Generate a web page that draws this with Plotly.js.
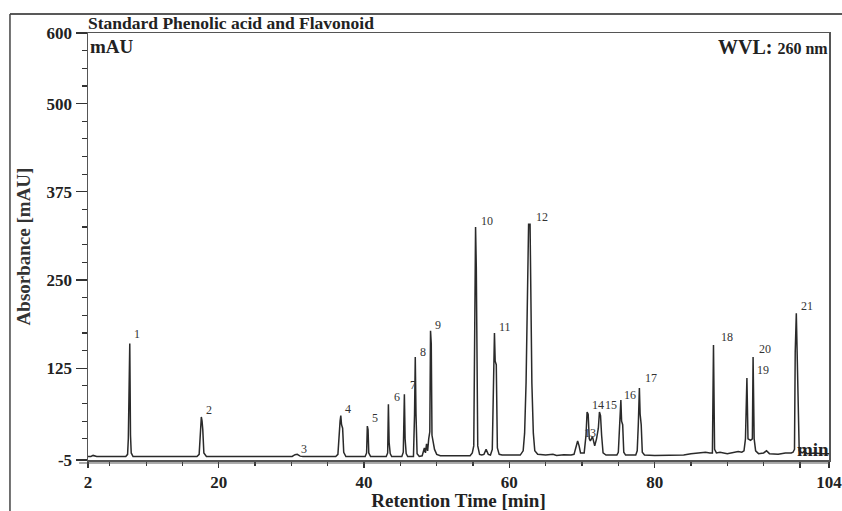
<!DOCTYPE html>
<html>
<head>
<meta charset="utf-8">
<script src="https://cdn.plot.ly/plotly-3.0.1.min.js"></script>
<style>html,body{margin:0;padding:0;background:#fff;}#chart{width:842px;height:511px;}</style>
</head>
<body>
<div id="chart"></div>
<script>
// Chromatogram trace (retention time in min, absorbance in mAU)
var retentionTime = [
  2.0, 2.4, 2.7, 3.2, 7.2, 7.45, 7.55, 7.65, 7.75, 7.85, 7.95, 8.2,
  17.0, 17.3, 17.45, 17.6, 17.7, 17.8, 17.95, 18.3,
  30.1, 30.5, 30.8, 31.2, 31.6,
  36.1, 36.4, 36.55, 36.7, 36.8, 36.9, 37.05, 37.2, 37.5,
  40.15, 40.35, 40.45, 40.55, 40.65, 40.9,
  43.05, 43.25, 43.35, 43.45, 43.6, 43.8,
  45.2, 45.4, 45.55, 45.65, 45.8, 46.0,
  46.8, 46.95, 47.05, 47.15, 47.3, 47.6,
  48.0, 48.3, 48.45, 48.6, 48.75, 48.9, 49.05, 49.15, 49.25, 49.35, 49.5, 49.7, 50.0, 50.5,
  54.6, 54.9, 55.1, 55.2, 55.35, 55.45, 55.55, 55.65, 55.9, 56.2,
  56.5, 56.8, 57.1,
  57.4, 57.65, 57.8, 57.95, 58.05, 58.2, 58.35, 58.6, 59.0,
  61.5, 61.9, 62.1, 62.3, 62.5, 62.65, 62.85, 62.95, 63.1, 63.3, 63.5, 63.9,
  65.0, 66.0, 66.5, 67.5, 68.5,
  68.9, 69.2, 69.4, 69.6, 69.8,
  70.3, 70.55, 70.7, 70.85, 71.0,
  71.15, 71.45, 71.75,
  72.0, 72.25, 72.4, 72.55, 72.7, 72.9, 73.3, 74.0,
  74.8, 75.0, 75.15, 75.35, 75.45, 75.6, 75.75, 76.0,
  77.4, 77.6, 77.75, 77.9, 78.0, 78.15, 78.3, 78.6,
  80.0, 82.0, 84.0, 85.0, 86.0, 87.0, 87.6,
  87.95, 88.1, 88.25, 88.5, 89.0, 90.0, 90.8, 91.5, 92.0,
  92.3, 92.5, 92.7, 92.85, 93.2, 93.45, 93.55, 93.7, 93.9, 94.3, 95.0, 95.4, 95.8, 97.0, 98.0, 98.8,
  99.05, 99.25, 99.35, 99.5, 99.6, 99.75, 99.9, 100.3, 100.6, 101.0, 102.0, 103.0, 104.0
];
var absorbance = [
  0, 0, 1.5, 0, 0, 3, 25, 140, 160, 30, 5, 0,
  0, 3, 38, 56, 50, 38, 5, 0,
  0, 2.5, 3, 0.5, 0,
  0, 3, 35, 50, 58, 45, 40, 6, 0,
  0, 5, 43, 38, 5, 0,
  0, 5, 74, 20, 4, 0,
  0, 6, 88, 25, 4, 0,
  0, 60, 141, 60, 4, 0,
  1, 12, 5, 18, 8, 25, 35, 178, 160, 30, 20, 10, 3, 1,
  1, 5, 15, 125, 325, 268, 125, 15, 3, 2,
  3, 10, 3,
  2, 10, 130, 175, 135, 130, 12, 3, 2,
  2, 8, 33, 104, 236, 329, 329, 236, 104, 33, 8, 3,
  2, 3, 1.5, 2.5, 2,
  3, 15, 22, 15, 5,
  5, 30, 63, 60, 25,
  22, 28, 15,
  25, 40, 63, 58, 30, 5, 2, 2,
  2, 6, 45, 80, 50, 45, 6, 2,
  2, 8, 45, 97, 60, 45, 6, 2,
  1.5, 1.5, 2, 4, 5, 6, 5,
  5, 158, 10, 5, 6, 4, 5.5, 7, 6,
  8, 25, 111, 25, 23, 25, 141, 25, 8, 4, 5, 8, 4, 3, 5, 5,
  6, 10, 148, 203, 148, 101, 8, 5, 7, 4, 5, 4, 4
];

// Peak numbers and where their labels sit
var peakNumbers = ['1','2','3','4','5','6','7','8','9','10','11','12','13','14','15','16','17','18','19','20','21'];
var labelTime   = [8.74, 18.65, 31.73, 37.79, 41.5, 44.53, 46.73, 48.11, 50.18, 56.92, 59.4, 64.49, 71.1, 72.2, 73.99, 76.6, 79.49, 89.96, 94.91, 95.19, 100.97];
var labelAbs    = [173.5, 65.8, 10.6, 67.3, 54.5, 84.3, 101.3, 148.0, 186.3, 333.6, 183.4, 339.3, 33.3, 72.9, 72.9, 87.1, 111.2, 169.3, 122.5, 152.3, 213.2];

// Axis ticks
var xTickVals = [2, 20, 40, 60, 80, 100, 104];
var xTickText = ['2', '20', '40', '60', '80', '', '104'];
var xMinorVals = [5, 10, 15, 25, 30, 35, 45, 50, 55, 65, 70, 75, 85, 90, 95];
var yTickVals = [-5, 125, 250, 375, 500, 600];
var yTickText = ['-5', '125', '250', '375', '500', '600'];
var yMinorVals = [25, 50, 75, 100, 150, 175, 200, 225, 275, 300, 325, 350, 400, 425, 450, 475, 525, 550, 575];

var serif = 'Liberation Serif, Times New Roman, serif';

var trace = {
  x: retentionTime,
  y: absorbance,
  type: 'scatter',
  mode: 'lines',
  line: {color: '#2a2a2a', width: 1.5},
  hoverinfo: 'x+y',
  showlegend: false
};

var annotations = peakNumbers.map(function (t, i) {
  return {
    x: labelTime[i], y: labelAbs[i], xref: 'x', yref: 'y',
    text: t, showarrow: false, xanchor: 'center', yanchor: 'middle',
    font: {family: serif, size: 12, color: '#333'}
  };
});
annotations.push({
  x: 0, y: 0.997, xref: 'paper', yref: 'paper', xanchor: 'left', yanchor: 'top',
  text: 'mAU', showarrow: false, font: {family: serif, size: 19, color: '#222', weight: 'bold'}
});
annotations.push({
  x: 1.002, y: 0.997, xref: 'paper', yref: 'paper', xanchor: 'right', yanchor: 'top',
  text: 'WVL: <span style="font-size:16px">260 nm</span>', showarrow: false,
  font: {family: serif, size: 20, color: '#222', weight: 'bold'}
});
annotations.push({
  x: 1.003, y: 0.025, xref: 'paper', yref: 'paper', xanchor: 'right', yanchor: 'middle',
  text: 'min', showarrow: false, font: {family: serif, size: 19, color: '#222', weight: 'bold'}
});

var layout = {
  width: 842, height: 511,
  margin: {l: 88, r: 13, t: 33, b: 51},
  paper_bgcolor: '#ffffff',
  plot_bgcolor: '#ffffff',
  title: {
    text: 'Standard Phenolic acid and Flavonoid',
    x: 88 / 842, xanchor: 'left', xref: 'container',
    y: 1 - 23 / 511, yanchor: 'middle', yref: 'container',
    font: {family: serif, size: 17.5, color: '#222', weight: 'bold'}
  },
  xaxis: {
    range: [2, 104], showgrid: false, zeroline: false,
    showline: true, linecolor: '#555', linewidth: 1.5, mirror: true,
    ticks: 'outside', ticklen: 6, tickwidth: 1.3, tickcolor: '#333',
    tickmode: 'array', tickvals: xTickVals, ticktext: xTickText,
    ticklabeloverflow: 'allow',
    tickfont: {family: serif, size: 17, color: '#222', weight: 'bold'},
    minor: {tickmode: 'array', tickvals: xMinorVals, ticks: 'outside', ticklen: 4, tickcolor: '#333', tickwidth: 1.2, showgrid: false},
    title: {text: 'Retention Time [min]', standoff: 3, font: {family: serif, size: 19, color: '#222', weight: 'bold'}}
  },
  yaxis: {
    range: [-5, 600], showgrid: false, zeroline: false,
    showline: true, linecolor: '#555', linewidth: 1.5, mirror: true,
    ticks: 'outside', ticklen: 11, tickwidth: 1.3, tickcolor: '#333',
    tickmode: 'array', tickvals: yTickVals, ticktext: yTickText,
    ticklabeloverflow: 'allow',
    tickfont: {family: serif, size: 17, color: '#222', weight: 'bold'},
    minor: {tickmode: 'array', tickvals: yMinorVals, ticks: 'outside', ticklen: 5, tickcolor: '#333', tickwidth: 1.2, showgrid: false},
    title: {text: 'Absorbance [mAU]', standoff: 11, font: {family: serif, size: 19, color: '#333', weight: 'bold'}}
  },
  shapes: [
    {type: 'line', xref: 'paper', yref: 'paper', x0: -0.1053, x1: 1.02, y0: 1.0445, y1: 1.0445, line: {color: '#222', width: 1.5}},
    {type: 'line', xref: 'paper', yref: 'paper', x0: -0.1053, x1: -0.1053, y0: 1.0445, y1: -0.13, line: {color: '#444', width: 1.5}},
    {type: 'line', xref: 'paper', yref: 'paper', x0: -0.012, x1: 1, y0: -0.007, y1: -0.007, line: {color: '#555', width: 1}}
  ],
  annotations: annotations
};

Plotly.newPlot('chart', [trace], layout, {displayModeBar: false, staticPlot: true});
</script>
</body>
</html>
